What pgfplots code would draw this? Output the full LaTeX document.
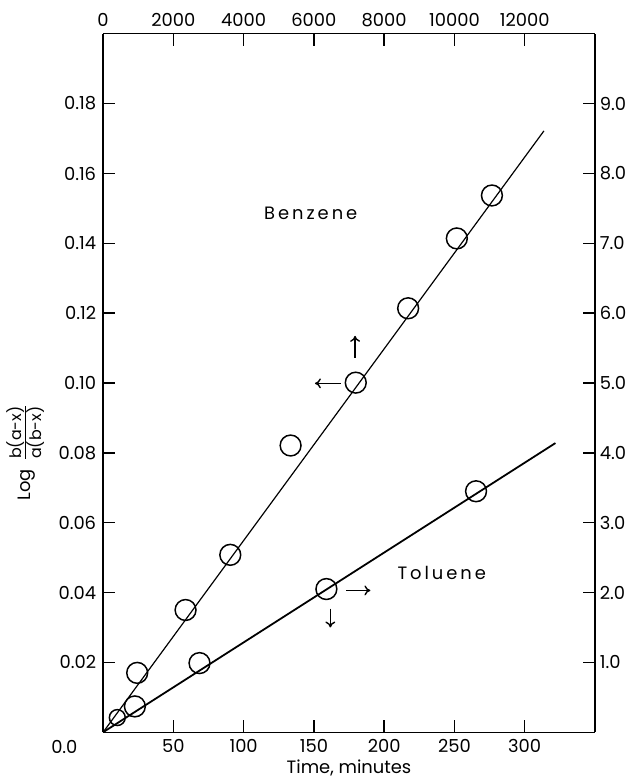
\documentclass[border=0pt]{standalone}
\usepackage{pgfplots}
\pgfplotsset{compat=1.18}
\usetikzlibrary{arrows.meta}
\usepackage{fontspec}
\setmainfont{Poppins}

% 1 px of the reference = 0.5pt
\pgfplotsset{
  common/.style={
    scale only axis, width=247.5pt, height=351.5pt,
    clip=false, tick align=inside, major tick length=6pt,
    scaled x ticks=false, scaled y ticks=false,
    axis line style={line width=0.7pt}, every tick/.style={line width=0.7pt, black},
    tick label style={font=\fontsize{9}{11}\selectfont},
    /pgf/number format/assume math mode=true,
    /pgf/number format/1000 sep={},
  },
  pts/.style={only marks, mark=o, mark size=5.25pt,
    mark options={line width=0.75pt, fill=white, draw=black}},
}
\tikzset{arr/.style={-{To[length=3pt,width=5pt]}, line width=0.7pt}}

\begin{document}
\begin{tikzpicture}
% Toluene: bottom time axis (minutes) and right y axis
\begin{axis}[common, name=ax,
  axis x line*=bottom, axis y line*=right,
  xmin=0, xmax=350, ymin=0, ymax=10,
  xtick={50,100,150,200,250,300},
  ytick={1,2,3,4,5,6,7,8,9},
  yticklabel style={xshift=-1pt, /pgf/number format/.cd, fixed, fixed zerofill, precision=1},
  xlabel={Time, minutes},
  xlabel style={font=\fontsize{9}{11}\selectfont, yshift=3pt},
]
\addplot[black, line width=0.9pt] coordinates {(0,0) (321.9,4.14)};
\addplot[pts] coordinates {(22.6,0.37) (68.6,0.99) (158.9,2.05) (265.4,3.45)};
\node[font=\fontsize{9}{11}\selectfont] at (axis cs:241,2.28) {T\,o\,l\,u\,e\,n\,e};
\draw[arr] (axis cs:173.2,2.03) -- (axis cs:190.2,2.03);
\draw[arr] (axis cs:161.7,1.77) -- (axis cs:161.7,1.50);
\node[font=\fontsize{9}{11}\selectfont] at ([xshift=-19.5pt, yshift=-7.5pt]axis cs:0,0) {0.0};
\end{axis}

% Benzene: top time axis and left y axis
\begin{axis}[common,
  axis x line*=top, axis y line*=left,
  xmin=0, xmax=14000, ymin=0, ymax=0.2,
  xtick={0,2000,4000,6000,8000,10000,12000},
  ytick={0.02,0.04,0.06,0.08,0.10,0.12,0.14,0.16,0.18},
  yticklabel style={/pgf/number format/.cd, fixed, fixed zerofill, precision=2},
]
\addplot[black, line width=0.6pt] coordinates {(0,0) (12549,0.1722)};
\addplot[only marks, mark=o, mark size=4pt,
  mark options={line width=0.75pt, fill=white, draw=black}] coordinates {(404,0.0042)};
\addplot[pts] coordinates {
  (970,0.0170) (2347,0.0350) (3620,0.0508) (5337,0.0821)
  (7192,0.1001) (8683,0.1214) (10069,0.1414) (11068,0.1537)};
\node[font=\fontsize{9}{11}\selectfont] at (axis cs:5911,0.1485) {B\,e\,n\,z\,e\,n\,e};
\draw[arr] (axis cs:7173,0.1073) -- (axis cs:7173,0.1135);
\draw[arr] (axis cs:6760,0.0999) -- (axis cs:6030,0.0999);
\node[rotate=90, font=\fontsize{9}{11}\selectfont] at ([xshift=-39pt]axis cs:0,0.0802)
  {Log\, $\frac{\mbox{\fontsize{8}{9}\selectfont b(a-x)}}{\mbox{\fontsize{8}{9}\selectfont a(b-x)}}$};
\end{axis}

\path ([shift={(-51.5pt,-23pt)}]ax.south west) rectangle ([shift={(20.5pt,17pt)}]ax.north east);
\end{tikzpicture}
\end{document}
